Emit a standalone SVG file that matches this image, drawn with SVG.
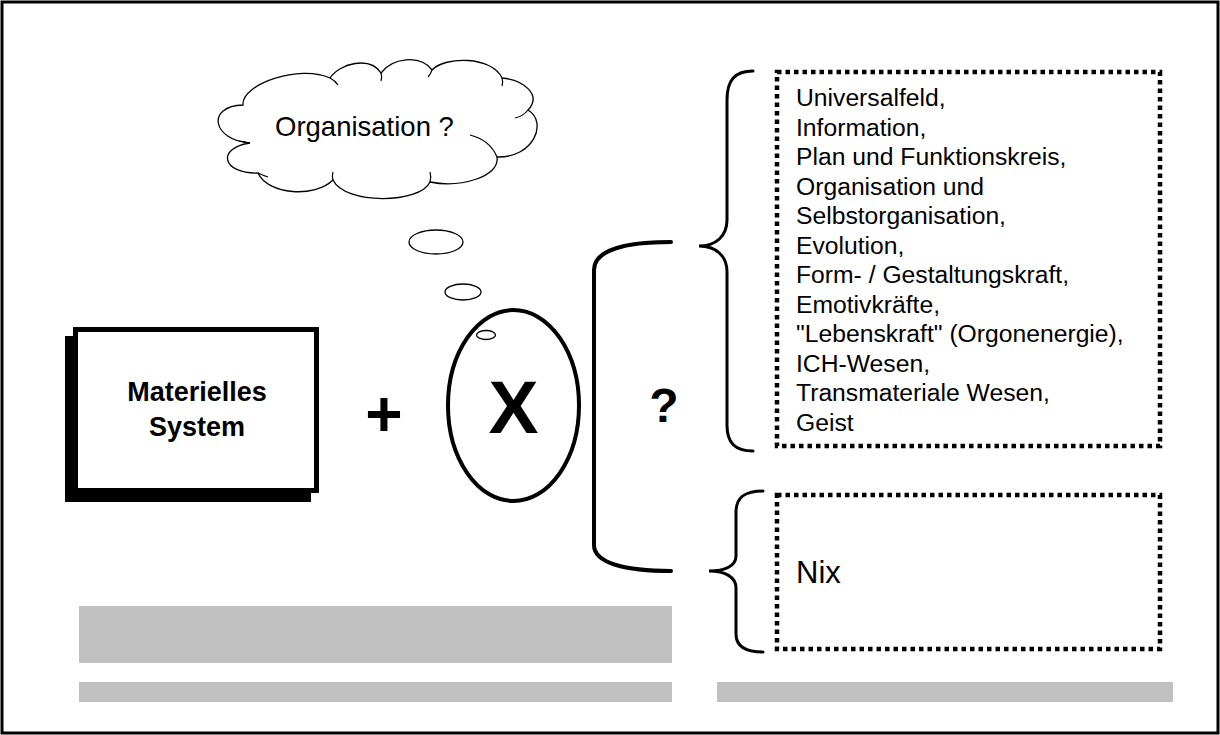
<svg xmlns="http://www.w3.org/2000/svg" width="1220" height="735" viewBox="0 0 1220 735">
  <style>
    .frame { fill: #ffffff; stroke: #000000; stroke-width: 3; }
    .bar { fill: #c0c0c0; }
    .thin { fill: #ffffff; stroke: #000000; stroke-width: 1.3; }
    .crease { fill: none; stroke: #000000; stroke-width: 1.2; }
    .dotted { fill: none; stroke: #000000; stroke-width: 4.5; stroke-dasharray: 4.5 4; }
    .brace { fill: none; stroke: #000000; stroke-width: 3; stroke-linecap: round; }
    .bracket { fill: none; stroke: #000000; stroke-width: 4; stroke-linecap: round; }
    .txt { font-family: "Liberation Sans", Arial, sans-serif; fill: #000000; }
    .list { font-size: 24.7px; }
    .bold { font-weight: bold; }
  </style>

  <!-- page frame -->
  <rect class="frame" x="2" y="2" width="1216" height="731"/>

  <!-- grey bars along the bottom -->
  <g id="bars">
    <rect class="bar" x="79" y="606" width="593" height="57"/>
    <rect class="bar" x="79" y="682" width="593" height="20"/>
    <rect class="bar" x="717" y="682" width="456" height="20"/>
  </g>

  <!-- thought cloud -->
  <g id="cloud">
    <path class="thin" d="M243,105
      C241,84 300,64 330,78
      C340,63 370,56 381,73
      C392,58 420,54 432,70
      C445,56 492,56 502,78
      C524,80 542,95 528,110
      C548,122 534,158 497,157
      C500,177 460,188 430,182
      C420,204 345,205 333,180
      C315,198 268,195 258,173
      C222,174 216,148 250,143
      C212,140 206,106 243,105 Z"/>
    <path class="crease" d="M330,78 C334,80 336,82 338,85"/>
    <path class="crease" d="M381,73 C382,76 382,78 381,81"/>
    <path class="crease" d="M432,70 C431,73 430,75 428,77"/>
    <path class="crease" d="M502,78 C503,81 503,83 502,86"/>
    <path class="crease" d="M528,110 C524,115 520,117 515,118"/>
    <path class="crease" d="M497,157 C492,145 482,138 470,135"/>
    <path class="crease" d="M430,182 C431,178 431,175 430,172"/>
    <path class="crease" d="M333,180 C332,177 332,175 333,172"/>
    <path class="crease" d="M258,173 C262,175 265,176 268,177"/>
    <path class="crease" d="M250,143 C246,142 242,141 239,141"/>
    <text class="txt" x="275" y="136" font-size="27.5">Organisation ?</text>
  </g>

  <!-- thought bubbles -->
  <g id="bubbles">
    <ellipse class="thin" cx="436" cy="242" rx="27" ry="12"/>
    <ellipse class="thin" cx="463" cy="292" rx="18" ry="8"/>
  </g>

  <!-- material system box with drop shadow -->
  <g id="system">
    <rect x="65" y="336" width="246" height="166" fill="#000000"/>
    <rect x="75.5" y="329.5" width="241" height="161" fill="#ffffff" stroke="#000000" stroke-width="5"/>
    <text class="txt bold" x="197" y="401" font-size="27" text-anchor="middle">Materielles</text>
    <text class="txt bold" x="197" y="436" font-size="27" text-anchor="middle">System</text>
  </g>

  <!-- plus sign -->
  <g id="plus">
    <text class="txt bold" x="384" y="436" font-size="64" text-anchor="middle">+</text>
  </g>

  <!-- unknown X -->
  <g id="unknown">
    <ellipse cx="513.5" cy="405.5" rx="65.5" ry="95.5" fill="#ffffff" stroke="#000000" stroke-width="4"/>
    <ellipse class="thin" cx="486" cy="335" rx="9.5" ry="4.5"/>
    <text class="txt bold" x="513.5" y="433" font-size="75" text-anchor="middle">X</text>
  </g>

  <!-- question mark -->
  <g id="question">
    <text class="txt bold" x="664" y="422" font-size="48" text-anchor="middle">?</text>
  </g>

  <!-- candidate list -->
  <g id="candidates">
    <rect class="dotted" x="777" y="72" width="383" height="374"/>
    <text class="txt list" x="796">
      <tspan x="796" y="106">Universalfeld,</tspan>
      <tspan x="796" y="135.5">Information,</tspan>
      <tspan x="796" y="165">Plan und Funktionskreis,</tspan>
      <tspan x="796" y="194.5">Organisation und</tspan>
      <tspan x="796" y="224">Selbstorganisation,</tspan>
      <tspan x="796" y="253.5">Evolution,</tspan>
      <tspan x="796" y="283">Form- / Gestaltungskraft,</tspan>
      <tspan x="796" y="312.5">Emotivkräfte,</tspan>
      <tspan x="796" y="342">"Lebenskraft" (Orgonenergie),</tspan>
      <tspan x="796" y="371.5">ICH-Wesen,</tspan>
      <tspan x="796" y="401">Transmateriale Wesen,</tspan>
      <tspan x="796" y="430.5">Geist</tspan>
    </text>
  </g>

  <!-- nothing -->
  <g id="nothing">
    <rect class="dotted" x="777" y="495" width="383" height="154"/>
    <text class="txt" x="796" y="583" font-size="31">Nix</text>
  </g>

  <!-- brackets linking the alternatives -->
  <g id="connectors">
    <path class="bracket" d="M671,242 C625,242 594,250 594,270 L594,545 C594,563 625,571 671,571"/>
    <path class="brace" d="M753,71 C735,71 727,80 727,100 L727,220 C727,236 716,246 699,246 C716,246 727,256 727,272 L727,425 C727,443 735,451 753,451"/>
    <path class="brace" d="M763,491 C745,491 736,497 736,512 L736,556 C736,566 725,571 709,571 C725,571 736,577 736,588 L736,634 C736,646 745,652 763,652"/>
  </g>
</svg>
